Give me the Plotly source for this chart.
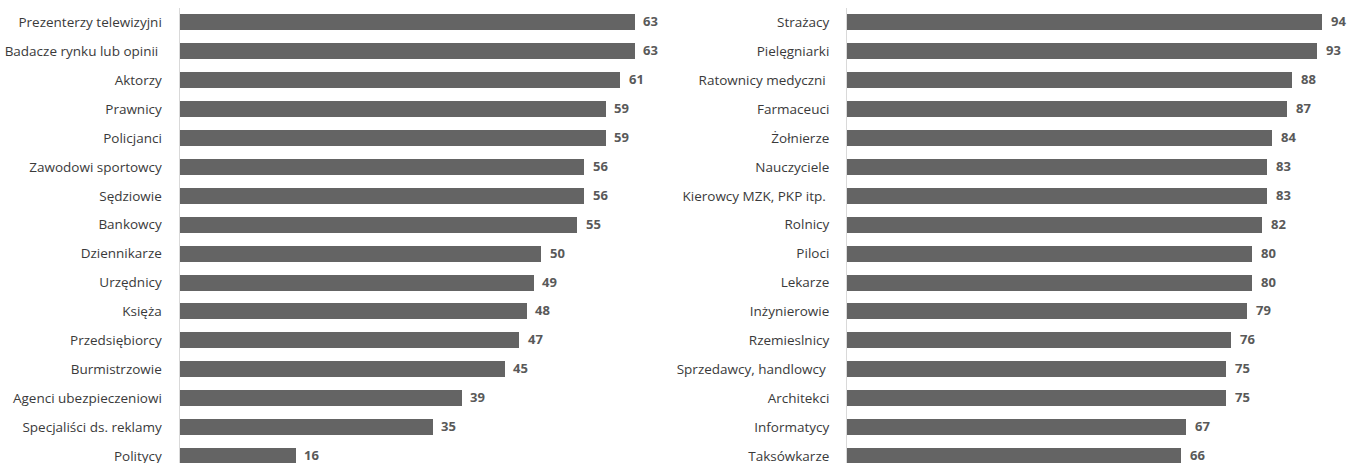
import plotly.graph_objects as go

left_labels = ["Prezenterzy telewizyjni", "Badacze rynku lub opinii ", "Aktorzy", "Prawnicy", "Policjanci",
               "Zawodowi sportowcy", "Sędziowie", "Bankowcy", "Dziennikarze", "Urzędnicy", "Księża",
               "Przedsiębiorcy", "Burmistrzowie", "Agenci ubezpieczeniowi", "Specjaliści ds. reklamy", "Politycy"]
left_values = [63, 63, 61, 59, 59, 56, 56, 55, 50, 49, 48, 47, 45, 39, 35, 16]

right_labels = ["Strażacy", "Pielęgniarki", "Ratownicy medyczni ", "Farmaceuci", "Żołnierze", "Nauczyciele",
                "Kierowcy MZK, PKP itp. ", "Rolnicy", "Piloci", "Lekarze", "Inżynierowie", "Rzemieslnicy",
                "Sprzedawcy, handlowcy ", "Architekci", "Informatycy", "Taksówkarze"]
right_values = [94, 93, 88, 87, 84, 83, 83, 82, 80, 80, 79, 76, 75, 75, 67, 66]

W, H = 1349, 463
BAR = "#646464"
LABEL_FONT = dict(family="Open Sans, sans-serif", size=13.5, color="#3a3a3a")
VAL_FONT = dict(family="Open Sans, sans-serif", size=13, color="#595959")

fig = go.Figure()
pos_l = list(range(len(left_labels)))
pos_r = list(range(len(right_labels)))

fig.add_trace(go.Bar(x=left_values, y=pos_l, orientation="h", marker=dict(color=BAR, line=dict(width=0)),
                     width=0.553, xaxis="x", yaxis="y", hoverinfo="x+y"))
fig.add_trace(go.Bar(x=right_values, y=pos_r, orientation="h", marker=dict(color=BAR, line=dict(width=0)),
                     width=0.553, xaxis="x2", yaxis="y2", hoverinfo="x+y"))

ann = []
for i, v in enumerate(left_values):
    ann.append(dict(x=v, y=i, xref="x", yref="y", text="<b>%d</b>" % v, showarrow=False,
                    xanchor="left", xshift=7, yshift=1, font=VAL_FONT))
for i, v in enumerate(right_values):
    ann.append(dict(x=v, y=i, xref="x2", yref="y2", text="<b>%d</b>" % v, showarrow=False,
                    xanchor="left", xshift=7, yshift=1, font=VAL_FONT))

top = 7.5
rowpx = 28.93
plot_h = H - top
span = plot_h / rowpx
yr = [-0.5 + span, -0.5]

l0, lpx = 179.5, 7.22
l_end = 670
r0, rpx = 847, 5.057
r_end = W

fig.update_layout(
    width=W, height=H,
    margin=dict(l=0, r=0, t=top, b=0, autoexpand=False),
    plot_bgcolor="white", paper_bgcolor="white",
    showlegend=False,
    annotations=ann,
    xaxis=dict(domain=[l0 / W, l_end / W], range=[0, (l_end - l0) / lpx], visible=False, fixedrange=True,
               automargin=False),
    xaxis2=dict(domain=[r0 / W, r_end / W], range=[0, (r_end - r0) / rpx], visible=False, fixedrange=True,
                automargin=False),
    yaxis=dict(anchor="x", range=yr, tickvals=pos_l, ticktext=left_labels, showgrid=False, zeroline=False,
               showline=True, linecolor="#d9d9d9", linewidth=1, ticks="", ticklabelstandoff=14,
               tickfont=LABEL_FONT, automargin=False, ticklabeloverflow="allow", fixedrange=True),
    yaxis2=dict(anchor="x2", range=yr, tickvals=pos_r, ticktext=right_labels, showgrid=False, zeroline=False,
                showline=True, linecolor="#d9d9d9", linewidth=1, ticks="", ticklabelstandoff=14,
                tickfont=LABEL_FONT, automargin=False, ticklabeloverflow="allow", fixedrange=True),
    bargap=0,
)

fig.write_html("out.html", config={"displayModeBar": False},
               post_script="document.body.style.margin='0';document.body.style.overflow='hidden';")
